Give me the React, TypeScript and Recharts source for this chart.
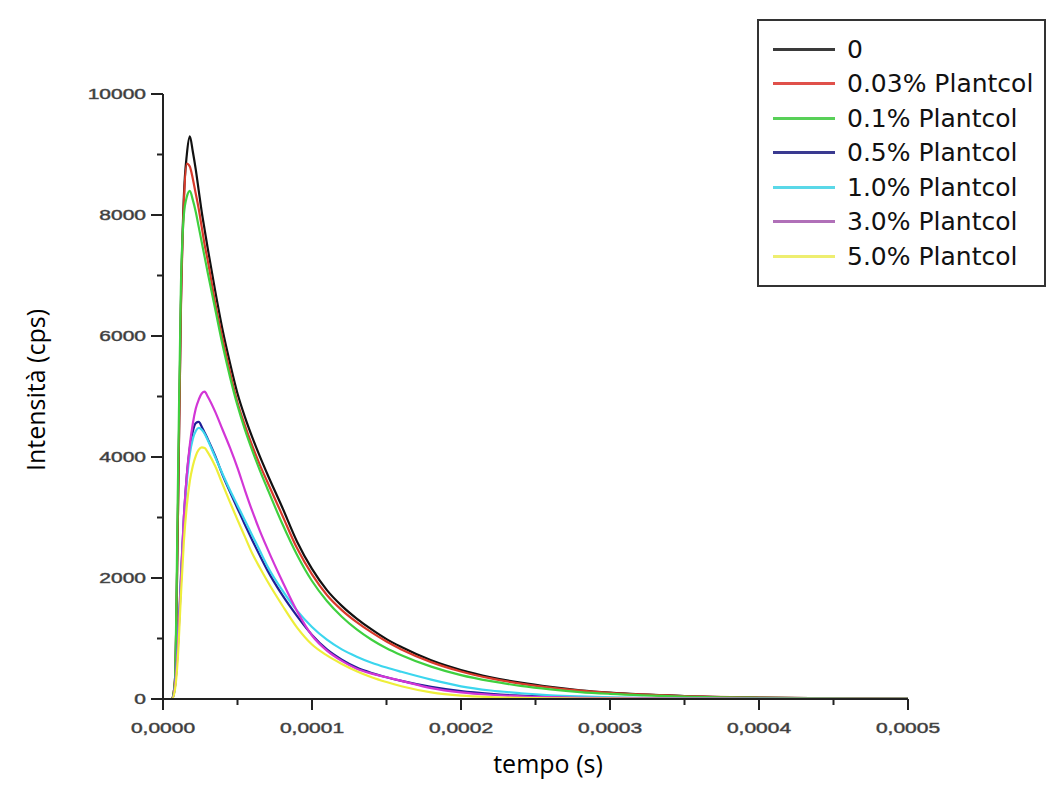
import React from 'react';
import { LineChart, Line, XAxis, YAxis, Legend } from 'recharts';

// time axis in microseconds (converted to seconds below)
const timeUs = [0, 6, 8, 10, 12, 14, 16, 18, 20, 22, 24, 26, 28, 30, 35, 40, 45, 50, 55, 60, 65, 70, 80, 90, 100, 110, 120, 130, 140, 150, 160, 180, 200, 220, 240, 260, 280, 300, 350, 400, 450, 500];

const s0 = [0, 0, 300, 3000, 6500, 8300, 9000, 9300, 9050, 8750, 8400, 8050, 7750, 7450, 6750, 6100, 5550, 5050, 4660, 4320, 4010, 3720, 3170, 2600, 2150, 1800, 1540, 1330, 1150, 990, 860, 640, 480, 360, 270, 200, 145, 105, 50, 25, 12, 8];
const s003 = [0, 0, 300, 3000, 6400, 8200, 8850, 8800, 8600, 8350, 8100, 7800, 7500, 7250, 6550, 5950, 5400, 4900, 4520, 4180, 3870, 3590, 3040, 2490, 2060, 1720, 1470, 1270, 1100, 950, 820, 610, 455, 340, 255, 190, 140, 100, 48, 24, 12, 8];
const s01 = [0, 0, 300, 3500, 6800, 8000, 8300, 8400, 8250, 8050, 7800, 7550, 7300, 7050, 6450, 5850, 5320, 4850, 4450, 4100, 3780, 3480, 2900, 2380, 1950, 1620, 1360, 1150, 980, 840, 725, 535, 395, 295, 218, 160, 115, 85, 40, 20, 10, 6];
const s05 = [0, 0, 200, 900, 2000, 3000, 3700, 4150, 4420, 4560, 4580, 4500, 4400, 4300, 4020, 3700, 3420, 3150, 2880, 2620, 2370, 2130, 1720, 1370, 1060, 820, 650, 520, 430, 360, 300, 200, 130, 85, 55, 38, 26, 18, 9, 5, 3, 2];
const s10 = [0, 0, 200, 900, 1900, 2900, 3600, 4050, 4300, 4430, 4480, 4450, 4380, 4280, 4000, 3720, 3450, 3200, 2950, 2700, 2450, 2200, 1800, 1460, 1190, 980, 820, 700, 600, 520, 450, 320, 210, 140, 95, 62, 42, 28, 12, 6, 3, 2];
const s30 = [0, 0, 200, 850, 1900, 3000, 3700, 4200, 4550, 4800, 4950, 5050, 5080, 5000, 4750, 4450, 4150, 3820, 3450, 3100, 2780, 2490, 1950, 1450, 1050, 800, 630, 500, 420, 360, 300, 180, 110, 70, 45, 30, 20, 14, 7, 4, 2, 1];
const s50 = [0, 0, 150, 700, 1700, 2600, 3200, 3600, 3850, 4020, 4120, 4160, 4150, 4080, 3850, 3550, 3250, 2960, 2680, 2400, 2170, 1950, 1550, 1180, 900, 720, 580, 460, 360, 280, 210, 110, 55, 30, 18, 12, 8, 5, 3, 2, 1, 1];

const seriesNames = ['0', '0.03% Plantcol', '0.1% Plantcol', '0.5% Plantcol', '1.0% Plantcol', '3.0% Plantcol', '5.0% Plantcol'];
const seriesColors = ['#111111', '#d93a2b', '#3fd03f', '#1e1e96', '#3cd6ee', '#d236d6', '#eeee3a'];
const legendColors = ['#3a3a3a', '#e0504a', '#58d058', '#3a3a90', '#5ad8e8', '#b070b8', '#eeee70'];
const seriesValues = [s0, s003, s01, s05, s10, s30, s50];

const xTicks = [0, 0.00005, 0.0001, 0.00015, 0.0002, 0.00025, 0.0003, 0.00035, 0.0004, 0.00045, 0.0005];
const yTicks = [0, 1000, 2000, 3000, 4000, 5000, 6000, 7000, 8000, 9000, 10000];

const data = timeUs.map((us, i) => {
  const row: Record<string, number> = { t: us / 1e6 };
  seriesNames.forEach((name, k) => {
    row[name] = seriesValues[k][i];
  });
  return row;
});

const tickFont = {
  fontFamily: 'Liberation Sans, Arial, sans-serif',
  fontSize: 15,
  fill: '#333',
  stroke: '#555',
  strokeWidth: 0.5,
};

const XTick = (props: any) => {
  const { x, y, payload } = props;
  const major = Math.round(payload.value * 20000) % 2 === 0;
  return (
    <g>
      <line x1={x} y1={y} x2={x} y2={y + (major ? 11 : 6)} stroke="#222" strokeWidth={2} />
      {major && (
        <g transform={`translate(${x},${y + 34})`}>
          <text transform="scale(1.4,1)" textAnchor="middle" {...tickFont}>
            {payload.value.toFixed(4).replace('.', ',')}
          </text>
        </g>
      )}
    </g>
  );
};

const YTick = (props: any) => {
  const { x, y, payload } = props;
  const major = payload.value % 2000 === 0;
  return (
    <g>
      <line x1={x - (major ? 12 : 6)} y1={y} x2={x} y2={y} stroke="#222" strokeWidth={2} />
      {major && (
        <g transform={`translate(${x - 17},${y + 5})`}>
          <text transform="scale(1.4,1)" textAnchor="end" {...tickFont}>
            {payload.value}
          </text>
        </g>
      )}
    </g>
  );
};

const LegendBox = () => (
  <div
    style={{
      boxSizing: 'border-box',
      width: 289,
      height: 268,
      border: '2px solid #333',
      background: '#fff',
      paddingTop: 11,
    }}
  >
    {seriesNames.map((name, i) => (
      <div key={name} style={{ display: 'flex', alignItems: 'center', height: 34.5 }}>
        <div style={{ marginLeft: 14, width: 62, height: 3, background: legendColors[i] }} />
        <span
          style={{
            marginLeft: 12,
            fontFamily: 'DejaVu Sans, sans-serif',
            fontSize: 25,
            color: '#111',
            whiteSpace: 'nowrap',
          }}
        >
          {name}
        </span>
      </div>
    ))}
  </div>
);

const labelFont = { fontFamily: 'Open Sans, sans-serif', fontSize: 25, fill: '#000' };

export default function App() {
  return (
    <div style={{ position: 'absolute', left: 0, top: 0, width: 1051, height: 785, background: '#fff' }}>
      <LineChart width={1051} height={785} data={data} margin={{ top: 94, right: 143, bottom: 46, left: 0 }}>
        <XAxis
          dataKey="t"
          type="number"
          domain={[0, 0.0005]}
          ticks={xTicks}
          interval={0}
          height={40}
          tickSize={0}
          tickMargin={0}
          tickLine={false}
          axisLine={{ stroke: '#222', strokeWidth: 2 }}
          tick={XTick}
          label={{
            content: () => (
              <text x={548} y={773} textAnchor="middle" {...labelFont}>
                tempo (s)
              </text>
            ),
          }}
        />
        <YAxis
          type="number"
          domain={[0, 10000]}
          ticks={yTicks}
          interval={0}
          width={163}
          tickSize={0}
          tickMargin={0}
          tickLine={false}
          axisLine={{ stroke: '#222', strokeWidth: 2 }}
          tick={YTick}
          label={{
            content: () => (
              <text transform="translate(45,390) rotate(-90)" textAnchor="middle" {...labelFont}>
                Intensità (cps)
              </text>
            ),
          }}
        />
        <Legend
          layout="vertical"
          align="center"
          verticalAlign="middle"
          wrapperStyle={{ left: 757, top: 19, width: 289, height: 268 }}
          content={() => <LegendBox />}
        />
        {seriesNames.map((name, i) => (
          <Line
            key={name}
            dataKey={name}
            name={name}
            type="monotone"
            stroke={seriesColors[i]}
            strokeWidth={2.2}
            dot={false}
            isAnimationActive={false}
          />
        ))}
      </LineChart>
    </div>
  );
}
